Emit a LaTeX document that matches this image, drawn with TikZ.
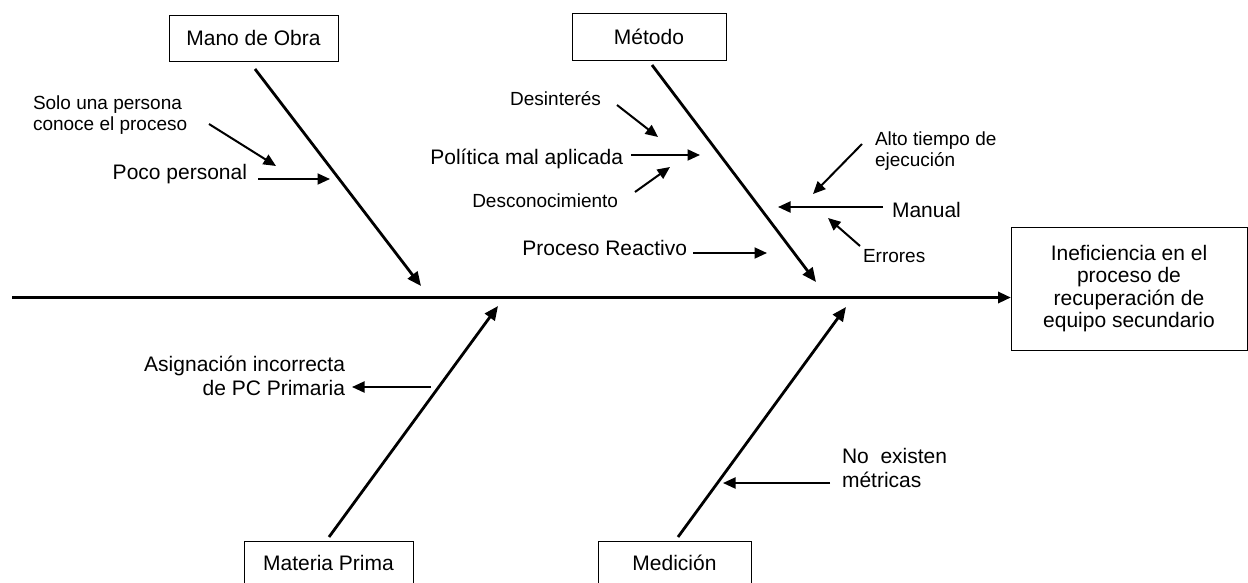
\documentclass[tikz,border=0pt]{standalone}
\usepackage{fontspec}
\setmainfont{Liberation Sans}
\usetikzlibrary{arrows.meta}
\begin{document}
\begin{tikzpicture}[x=1pt,y=-1pt,
  every node/.style={inner sep=0pt, outer sep=0pt},
  big/.style={font=\fontsize{21}{24}\selectfont},
  small/.style={font=\fontsize{19}{21.5}\selectfont},
  catbox/.style={draw, line width=1pt, big},
  spine/.style={line width=3.2pt, -{Triangle[length=13pt,width=11pt]}},
  bone/.style={line width=2.8pt, -{Triangle[length=14pt,width=12pt]}},
  twig/.style={line width=2pt, -{Triangle[length=12.5pt,width=11pt]}},
]
\useasboundingbox (0,0) rectangle (1248,582);
\clip (0,0) rectangle (1248,582);

% category boxes
\node[catbox, minimum width=169pt, minimum height=46pt] (mano) at (253.5,38) {Mano de Obra};
\node[catbox, minimum width=154pt, minimum height=47pt] (metodo) at (649,36.5) {Método};
\node[catbox, minimum width=169pt, minimum height=44pt] (materia) at (328.5,563) {Materia Prima};
\node[catbox, minimum width=153pt, minimum height=44pt] (medicion) at (674.5,563) {Medición};

% effect box
\node[draw, line width=1pt, minimum width=236pt, minimum height=123pt, align=center,
      font=\fontsize{21}{22.5}\selectfont] (effect) at (1129,288.5)
  {Ineficiencia en el\\proceso de\\recuperación de\\equipo secundario};

% spine
\coordinate (tail) at (12,297.5);
\draw[spine] (tail) -- (effect.west |- tail);

% main bones
\coordinate (manoA) at (255,69);   \coordinate (manoB) at (421,286);
\coordinate (metA) at (652,65);    \coordinate (metB) at (816,282);
\coordinate (matA) at (329,537);   \coordinate (matB) at (498,306);
\coordinate (medA) at (678,537);   \coordinate (medB) at (846,307);
\draw[bone] (manoA) -- (manoB);
\draw[bone] (metA) -- (metB);
\draw[bone] (matA) -- (matB);
\draw[bone] (medA) -- (medB);

% Mano de Obra causes
\node[small, anchor=west, align=left] (solo) at (33,115) {Solo una persona\\conoce el proceso};
\node[big, anchor=east] (poco) at (247,174.5) {Poco personal};
\coordinate (s1) at (209,124); \coordinate (s2) at (276,166);
\coordinate (p1) at (258,179); \coordinate (p2) at (330,179);
\draw[twig] (s1) -- (s2);
\draw[twig] (p1) -- (p2);

% Método causes
\node[small, anchor=east] (desint) at (601,99) {Desinterés};
\node[big, anchor=east] (politica) at (623,158.5) {Política mal aplicada};
\node[small, anchor=east] (descon) at (618,201) {Desconocimiento};
\node[big, anchor=east] (reactivo) at (687,248) {Proceso Reactivo};
\coordinate (d1) at (617,105); \coordinate (d2) at (658,137);
\coordinate (q1) at (631,155); \coordinate (q2) at (700,155);
\coordinate (c1) at (635,192); \coordinate (c2) at (670,167);
\coordinate (r1) at (693,253); \coordinate (r2) at (767,253);
\draw[twig] (d1) -- (d2);
\draw[twig] (q1) -- (q2);
\draw[twig] (c1) -- (c2);
\draw[twig] (r1) -- (r2);

\node[small, anchor=west, align=left] (alto) at (875,151) {Alto tiempo de\\ejecución};
\node[big, anchor=west] (manual) at (892,209.5) {Manual};
\node[small, anchor=west] (errores) at (863,256) {Errores};
\coordinate (a1) at (862,144); \coordinate (a2) at (813,194);
\coordinate (m1) at (883,207); \coordinate (m2) at (778,207);
\coordinate (e1) at (860,246); \coordinate (e2) at (828,218);
\draw[twig] (a1) -- (a2);
\draw[twig] (m1) -- (m2);
\draw[twig] (e1) -- (e2);

% Materia Prima cause
\node[big, anchor=east, align=right] (asig) at (345,376)
  {Asignación incorrecta\\de PC Primaria};
\coordinate (g1) at (431,387); \coordinate (g2) at (352,387);
\draw[twig] (g1) -- (g2);

% Medición cause
\node[big, anchor=west, align=left] (metricas) at (842,468) {No\ \ existen\\métricas};
\coordinate (n1) at (830,483); \coordinate (n2) at (723,483);
\draw[twig] (n1) -- (n2);
\end{tikzpicture}
\end{document}
